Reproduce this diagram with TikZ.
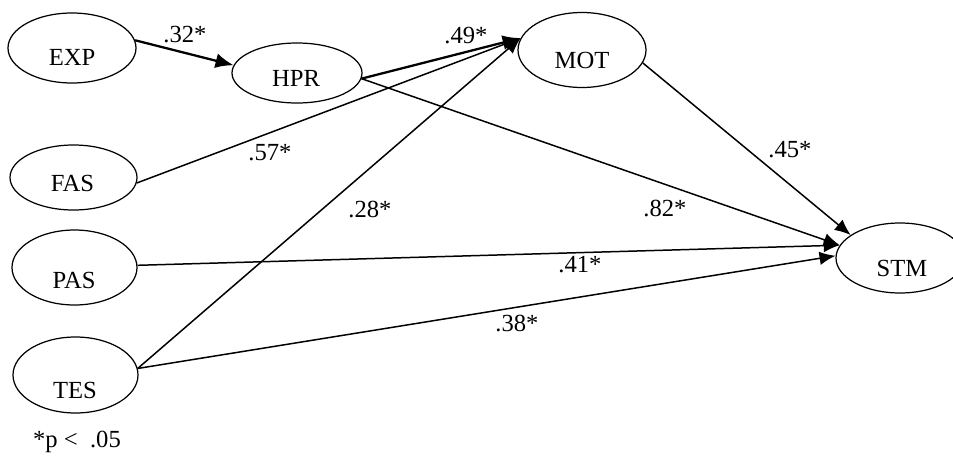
\documentclass[tikz,border=0pt]{standalone}
\usepackage{fontspec}
\setmainfont{Liberation Serif}
\usetikzlibrary{shapes.geometric,arrows.meta}

\begin{document}
\begin{tikzpicture}[every node/.style={font=\fontsize{14}{16}\selectfont},
	var/.style={draw, ellipse, line width=0.7pt, minimum width=2.56cm, minimum height=1.4cm, inner sep=0pt},
	link/.style={->, line width=0.85pt},
	boldlink/.style={-{Latex[length=0.36cm,width=0.3cm]}, line width=1.3pt},
	>={Latex[length=0.32cm,width=0.27cm]}]
	\useasboundingbox (0, 0) rectangle (19.06, 9.14);
	
	\node[var] (exp) at (1.44, 8.18) {};
	\node (expt) at (1.44, 8.0) {EXP};
	\node[var, minimum width=2.6cm, minimum height=1.2cm] (hpr) at (5.94, 7.68) {};
	\node (hprt) at (5.92, 7.58) {HPR};
	\node[var, minimum height=1.5cm] (mot) at (11.64, 8.14) {};
	\node (mott) at (11.64, 7.94) {MOT};
	
	\node[var, minimum width=2.54cm, minimum height=1.3cm] (fas) at (1.47, 5.59) {};
	\node (fast) at (1.45, 5.48) {FAS};
	\node[var, minimum width=2.5cm, minimum height=1.5cm] (pas) at (1.49, 3.79) {};
	\node (past) at (1.48, 3.54) {PAS};
	\node[var, minimum width=2.5cm, minimum height=1.52cm] (tes) at (1.51, 1.64) {};
	\node (test) at (1.50, 1.34) {TES};
	
	\node[var] (stm) at (18.0, 3.98) {};
	\node (stmt) at (18.04, 3.78) {STM};
	
	\node (w32) at (3.70, 8.44) {.32*};
	\node (w49) at (9.32, 8.42) {.49*};
	\node (w57) at (5.40, 6.08) {.57*};
	\node (w28) at (7.40, 4.96) {.28*};
	\node (w82) at (13.30, 4.98) {.82*};
	\node (w41) at (11.60, 3.84) {.41*};
	\node (w38) at (10.34, 2.68) {.38*};
	\node (w45) at (15.80, 6.14) {.45*};
	
	\node (note) at (1.54, 0.30) {*p <\ \ .05};
	
	\draw[boldlink] (exp.7) -- (hpr.173);
	\draw[boldlink] (hpr.-5) -- (mot.169);
	\draw[link] (hpr.-5) -- (stm.168);
	\draw[link] (fas.-5) -- (mot.169);
	\draw[link] (tes.6) -- (mot.169);
	\draw[link] (mot.-12) -- (stm.155);
	\draw[link] (pas.2) -- (stm.168);
	\draw[link] (tes.6) -- (stm.178);
\end{tikzpicture}
\end{document}
